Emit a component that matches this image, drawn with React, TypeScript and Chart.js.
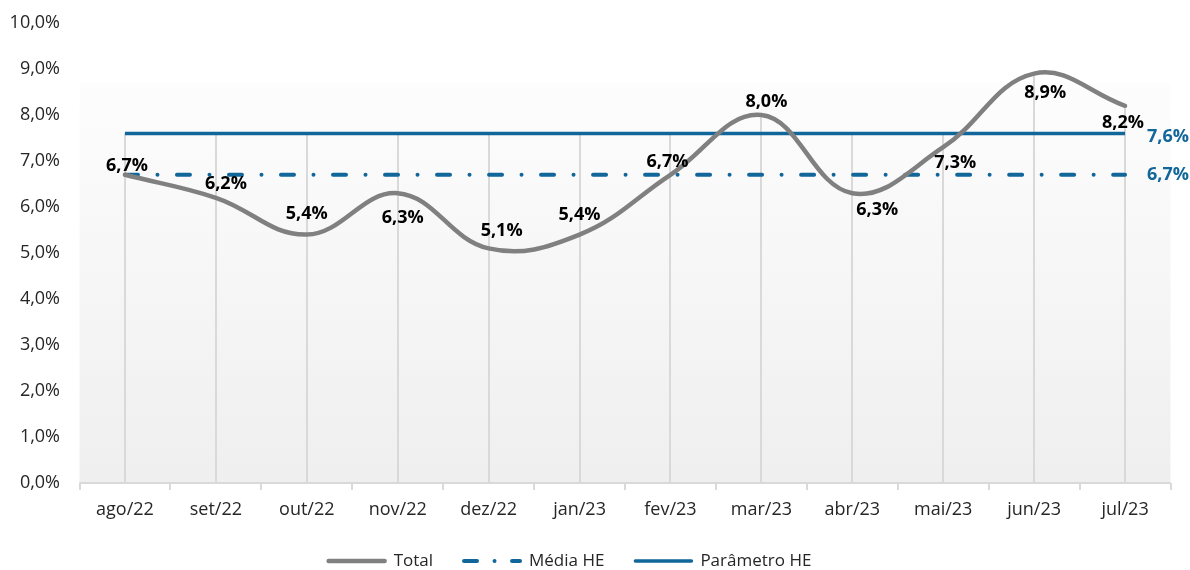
import { useEffect, useRef } from 'react';
import { Chart, registerables } from 'chart.js';

Chart.register(...registerables);

const categories = ['ago/22', 'set/22', 'out/22', 'nov/22', 'dez/22', 'jan/23', 'fev/23', 'mar/23', 'abr/23', 'mai/23', 'jun/23', 'jul/23'];
const totalValues = [6.7, 6.2, 5.4, 6.3, 5.1, 5.4, 6.7, 8.0, 6.3, 7.3, 8.9, 8.2];
const mediaValues = [6.7, 6.7, 6.7, 6.7, 6.7, 6.7, 6.7, 6.7, 6.7, 6.7, 6.7, 6.7];
const parametroValues = [7.6, 7.6, 7.6, 7.6, 7.6, 7.6, 7.6, 7.6, 7.6, 7.6, 7.6, 7.6];
const seriesNames = ['Total', 'Média HE', 'Parâmetro HE'];
const yMin = 0;
const yMax = 10;
const yStep = 1;

// label offsets (px) relative to each Total point
const totalLabelOffsets = [
  [2, -9], [10, -14], [0, -21], [5, 25], [13, -18], [0, -20],
  [-3, -13], [5, -13], [25, 17], [12, 16], [11, 19], [-2, 17],
];

const BLUE = '#11669a';
const GRAY = '#808080';
const FONT = '"Open Sans", sans-serif';

const fmt = (v: number) => v.toFixed(1).replace('.', ',') + '%';

const customPlugin = {
  id: 'customDraw',
  beforeDatasetsDraw(chart: any) {
    const { ctx, chartArea, scales } = chart;
    const x = scales.x;
    const y = scales.y;
    ctx.save();
    // background gradient
    const top = chartArea.top + 60;
    const g = ctx.createLinearGradient(0, top, 0, chartArea.bottom);
    g.addColorStop(0, '#fdfdfd');
    g.addColorStop(1, '#efefef');
    ctx.fillStyle = g;
    ctx.fillRect(chartArea.left, top, chartArea.right - chartArea.left, chartArea.bottom - top);
    // drop lines
    ctx.strokeStyle = '#d9d9d9';
    ctx.lineWidth = 2;
    categories.forEach((_, i) => {
      const maxV = Math.max(totalValues[i], mediaValues[i], parametroValues[i]);
      const px = Math.round(x.getPixelForValue(i));
      ctx.beginPath();
      ctx.moveTo(px, y.getPixelForValue(maxV));
      ctx.lineTo(px, chartArea.bottom);
      ctx.stroke();
    });
    // axis line
    ctx.beginPath();
    ctx.moveTo(chartArea.left, chartArea.bottom);
    ctx.lineTo(chartArea.right, chartArea.bottom);
    ctx.stroke();
    const step = (chartArea.right - chartArea.left) / categories.length;
    for (let k = 0; k <= categories.length; k++) {
      const bx = Math.round(chartArea.left + k * step);
      ctx.beginPath();
      ctx.moveTo(bx, chartArea.bottom);
      ctx.lineTo(bx, chartArea.bottom + 7);
      ctx.stroke();
    }
    ctx.restore();
  },
  afterDatasetsDraw(chart: any) {
    const { ctx, scales } = chart;
    const x = scales.x;
    const y = scales.y;
    ctx.save();
    ctx.textBaseline = 'middle';
    // Total labels
    ctx.font = `bold 18px ${FONT}`;
    ctx.fillStyle = '#000000';
    ctx.textAlign = 'center';
    totalValues.forEach((v, i) => {
      const px = x.getPixelForValue(i);
      const py = y.getPixelForValue(v);
      const [dx, dy] = totalLabelOffsets[i];
      ctx.fillText(fmt(v), px + dx, py + dy);
    });
    // right-hand labels
    const last = categories.length - 1;
    ctx.fillStyle = BLUE;
    ctx.textAlign = 'left';
    const lx = x.getPixelForValue(last) + 22;
    ctx.fillText(fmt(parametroValues[last]), lx, y.getPixelForValue(parametroValues[last]) + 3);
    ctx.fillText(fmt(mediaValues[last]), lx, y.getPixelForValue(mediaValues[last]));
    ctx.restore();
  },
  afterDraw(chart: any) {
    const { ctx } = chart;
    ctx.save();
    ctx.font = `17px ${FONT}`;
    ctx.textBaseline = 'middle';
    ctx.textAlign = 'left';
    const ly = 561;
    const lineLen = 60;
    const gapText = 7;
    const gapItem = 29;
    const widths = seriesNames.map((n) => lineLen + gapText + ctx.measureText(n).width);
    const total = widths.reduce((a, b) => a + b, 0) + gapItem * (seriesNames.length - 1);
    let cx = 569 - total / 2;
    const styles = [
      { color: GRAY, width: 4.5, dash: [] as number[] },
      { color: BLUE, width: 4, dash: [13, 17.5, 0.01, 17.5] },
      { color: BLUE, width: 3.5, dash: [] as number[] },
    ];
    seriesNames.forEach((n, i) => {
      const s = styles[i];
      ctx.strokeStyle = s.color;
      ctx.lineWidth = s.width;
      ctx.lineCap = 'round';
      ctx.setLineDash(s.dash);
      ctx.beginPath();
      ctx.moveTo(cx + 2, ly);
      ctx.lineTo(cx + lineLen - 2, ly);
      ctx.stroke();
      ctx.setLineDash([]);
      ctx.fillStyle = '#262626';
      ctx.fillText(n, cx + lineLen + gapText, ly);
      cx += widths[i] + gapItem;
    });
    ctx.restore();
  },
};

export default function App() {
  const canvasRef = useRef<HTMLCanvasElement | null>(null);

  useEffect(() => {
    if (!canvasRef.current) return;
    Chart.defaults.font.family = FONT;
    const chart = new Chart(canvasRef.current, {
      type: 'line',
      data: {
        labels: categories,
        datasets: [
          {
            label: seriesNames[0],
            data: totalValues,
            borderColor: GRAY,
            borderWidth: 4.5,
            tension: 0.4,
            pointRadius: 0,
            borderCapStyle: 'round',
            fill: false,
          },
          {
            label: seriesNames[1],
            data: mediaValues,
            borderColor: BLUE,
            borderWidth: 4,
            borderDash: [13, 19.5, 0.01, 19.5],
            borderCapStyle: 'round',
            pointRadius: 0,
            tension: 0,
            fill: false,
          },
          {
            label: seriesNames[2],
            data: parametroValues,
            borderColor: BLUE,
            borderWidth: 3.5,
            pointRadius: 0,
            tension: 0,
            fill: false,
          },
        ],
      },
      options: {
        responsive: false,
        animation: false,
        layout: { autoPadding: false, padding: { left: 0, top: 23, right: 19.5, bottom: 0 } },
        plugins: {
          legend: { display: false },
          tooltip: { enabled: false },
        },
        scales: {
          x: {
            type: 'category',
            offset: true,
            grid: { display: false, drawTicks: false },
            border: { display: false },
            ticks: {
              padding: 16,
              color: '#262626',
              font: { size: 18, family: FONT },
              maxRotation: 0,
              autoSkip: false,
            },
            afterFit: (scale: any) => {
              scale.height = 87;
              scale.paddingLeft = 0;
              scale.paddingRight = 0;
            },
          },
          y: {
            min: yMin,
            max: yMax,
            grid: { display: false, drawTicks: false },
            border: { display: false },
            ticks: {
              stepSize: yStep,
              padding: 19.5,
              color: '#262626',
              font: { size: 18, family: FONT },
              callback: (v: any) => fmt(Number(v)),
            },
            afterFit: (scale: any) => {
              scale.width = 79.5;
              scale.paddingTop = 0;
              scale.paddingBottom = 0;
            },
          },
        },
      },
      plugins: [customPlugin],
    });
    return () => chart.destroy();
  }, []);

  return (
    <div style={{ position: 'absolute', left: 0, top: 0, width: 1190, height: 570, background: '#ffffff' }}>
      <canvas ref={canvasRef} width={1190} height={570} style={{ display: 'block' }} />
    </div>
  );
}
